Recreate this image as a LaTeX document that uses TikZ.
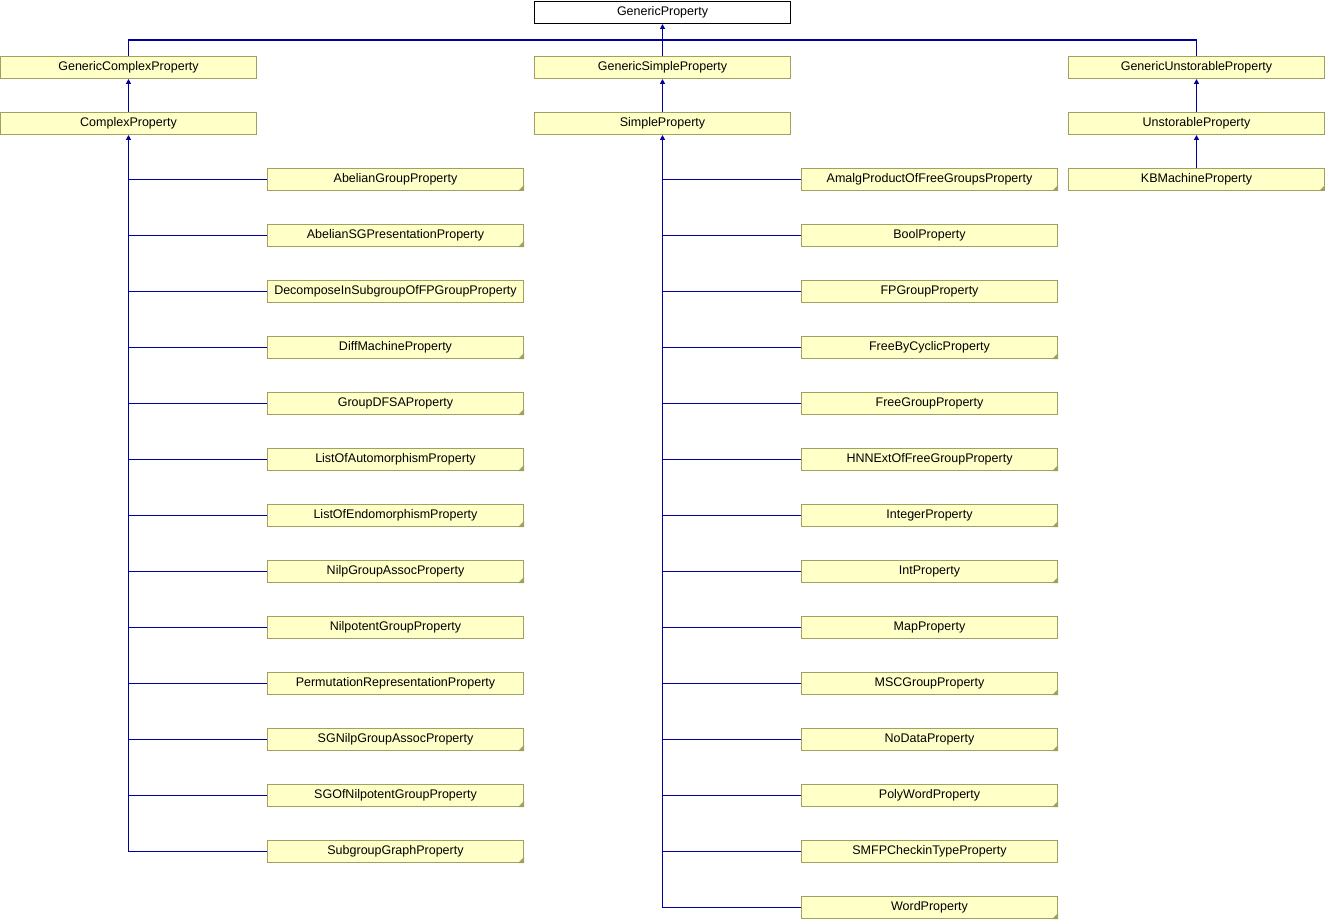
\documentclass[tikz,border=0pt]{standalone}
\usepackage{fontspec}
\setmainfont{Liberation Sans}
\usetikzlibrary{arrows.meta}
\definecolor{boxfill}{HTML}{FFFFC8}
\definecolor{boxline}{HTML}{A0A060}
\definecolor{linkblue}{HTML}{0000A0}
\begin{document}
\begin{tikzpicture}[x=1pt, y=-1pt,
        classbox/.style={draw=boxline, fill=boxfill, line width=1pt, anchor=north west,
            minimum width=256pt, minimum height=22pt, inner sep=0pt,
            font=\fontsize{12.5}{14}\selectfont},
        rootbox/.style={classbox, draw=black, fill=white},
        link/.style={draw=linkblue, line width=1.2pt},
        inherit/.style={link, -{Triangle[length=5pt, width=5pt]}}]
        \useasboundingbox (0,0) rectangle (1325,920);

        % Base class and the three generic branches
        \node[rootbox] (root) at (534,1) {GenericProperty};
        \node[classbox] (gcplx) at (0,56) {GenericComplexProperty};
        \node[classbox] (gsimp) at (534,56) {GenericSimpleProperty};
        \node[classbox] (gunst) at (1068,56) {GenericUnstorableProperty};

        \coordinate (bus) at (662,40);
        \draw[link] (gcplx.north) |- (bus) -| (gunst.north);
        \draw[inherit] (gsimp.north) -- (root.south);

        % Second level
        \node[classbox] (cplx) at (0,112) {ComplexProperty};
        \node[classbox] (simp) at (534,112) {SimpleProperty};
        \node[classbox] (unst) at (1068,112) {UnstorableProperty};
        \node[classbox] (kbm) at (1068,168) {KBMachineProperty};
        \fill[boxline] (kbm.south east) ++(-6pt,0) -- ++(6pt,0) -- ++(0,6pt) -- cycle;

        \draw[inherit] (cplx.north) -- (gcplx.south);
        \draw[inherit] (simp.north) -- (gsimp.south);
        \draw[inherit] (unst.north) -- (gunst.south);
        \draw[inherit] (kbm.north) -- (unst.south);

        % Children of ComplexProperty
        \foreach \lbl/\hasstub [count=\i] in {AbelianGroupProperty/1, AbelianSGPresentationProperty/1,
            DecomposeInSubgroupOfFPGroupProperty/0, DiffMachineProperty/1, GroupDFSAProperty/1,
            ListOfAutomorphismProperty/1, ListOfEndomorphismProperty/1, NilpGroupAssocProperty/1,
            NilpotentGroupProperty/0, PermutationRepresentationProperty/0, SGNilpGroupAssocProperty/1,
            SGOfNilpotentGroupProperty/1, SubgroupGraphProperty/1} {
            \node[classbox] (c\i) at (267,112+56*\i) {\lbl};
            \ifnum\hasstub=1
                \fill[boxline] (c\i.south east) ++(-6pt,0) -- ++(6pt,0) -- ++(0,6pt) -- cycle;
            \fi
            \draw[link] (cplx.south |- c\i.west) -- (c\i.west);
        }
        \draw[inherit] (cplx.south |- c13.west) -- (cplx.south);

        % Children of SimpleProperty
        \foreach \lbl/\hasstub [count=\i] in {AmalgProductOfFreeGroupsProperty/1, BoolProperty/0,
            FPGroupProperty/0, FreeByCyclicProperty/1, FreeGroupProperty/0, HNNExtOfFreeGroupProperty/1,
            IntegerProperty/1, IntProperty/1, MapProperty/0, MSCGroupProperty/1, NoDataProperty/1,
            PolyWordProperty/1, SMFPCheckinTypeProperty/0, WordProperty/1} {
            \node[classbox] (s\i) at (801,112+56*\i) {\lbl};
            \ifnum\hasstub=1
                \fill[boxline] (s\i.south east) ++(-6pt,0) -- ++(6pt,0) -- ++(0,6pt) -- cycle;
            \fi
            \draw[link] (simp.south |- s\i.west) -- (s\i.west);
        }
        \draw[inherit] (simp.south |- s14.west) -- (simp.south);
    \end{tikzpicture}
\end{document}
